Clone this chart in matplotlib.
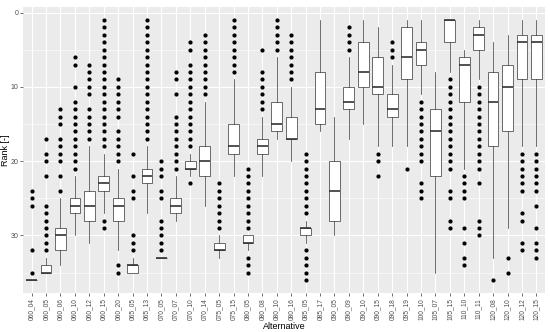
import numpy as np
import matplotlib
matplotlib.use("Agg")
import matplotlib.pyplot as plt

plt.rcParams['font.family'] = ['Liberation Sans', 'DejaVu Sans']

# alternatives on the x axis
alternatives = ['060_04', '060_05', '060_06', '060_10', '060_12', '060_15', '060_20',
                '065_05', '065_13', '070_05', '070_07', '070_10', '070_14', '075_05',
                '075_15', '080_05', '080_08', '080_10', '080_16', '085_05', '085_17',
                '090_05', '090_09', '090_10', '090_15', '090_18', '095_19', '100_10',
                '105_07', '105_15', '110_10', '110_11', '120_08', '120_10', '120_12',
                '120_15']

# box statistics (rank)
whisker_lo = [36, 33, 25, 22, 18, 19, 21, 33, 18, 33, 22, 19, 12, 30, 9, 30, 14, 6,
              10, 28, 1, 14, 6, 1, 2, 7, 1, 1, 8, 1, 5, 1, 4, 3, 1, 1]
box_lo = [36, 34, 29, 25, 24, 22, 25, 34, 21, 33, 25, 20, 18, 31, 15, 30, 17, 12,
          14, 29, 8, 20, 10, 4, 6, 11, 2, 4, 13, 1, 6, 2, 8, 7, 3, 3]
medians = [36, 35, 30, 26, 26, 23, 26, 34, 22, 33, 26, 21, 20, 32, 18, 31, 18, 15,
           17, 29, 13, 24, 12, 8, 10, 13, 6, 5, 16, 1, 7, 3, 12, 10, 4, 4]
box_hi = [36, 35, 32, 27, 28, 24, 28, 35, 23, 33, 27, 21, 22, 32, 19, 31, 19, 16,
          17, 30, 15, 28, 13, 10, 11, 14, 9, 7, 22, 4, 12, 5, 18, 16, 9, 9]
whisker_hi = [36, 35, 34, 30, 31, 27, 32, 35, 27, 33, 28, 22, 26, 33, 22, 32, 22, 17,
              20, 31, 16, 30, 17, 15, 18, 18, 18, 11, 35, 8, 21, 9, 33, 29, 18, 18]
outliers = [
    [24, 25, 26, 32, 35],
    [17, 19, 20, 22, 26, 27, 28, 29, 30, 31, 32],
    [13, 14, 15, 17, 18, 19, 20, 22, 24],
    [6, 7, 10, 12, 13, 14, 15, 16, 17, 18, 19, 20, 21],
    [7, 8, 9, 10, 11, 13, 14, 15, 16, 17],
    [1, 2, 3, 4, 5, 6, 7, 8, 9, 10, 11, 12, 13, 14, 15, 16, 17, 18, 28, 29],
    [9, 10, 11, 12, 13, 14, 16, 17, 18, 19, 20, 34, 35],
    [19, 22, 24, 25, 30, 31, 32],
    [1, 2, 3, 4, 5, 6, 7, 8, 9, 10, 11, 12, 13, 14, 15, 16, 17],
    [20, 21, 22, 24, 25, 28, 29, 30, 31, 32],
    [8, 9, 11, 14, 15, 16, 17, 18, 19, 20, 21],
    [4, 5, 7, 8, 9, 10, 11, 12, 13, 14, 15, 16, 17, 18, 23],
    [3, 4, 5, 6, 7, 8, 9, 10, 11],
    [23, 24, 25, 26, 27, 28, 29],
    [1, 2, 3, 4, 5, 6, 7, 8],
    [21, 22, 23, 24, 25, 26, 27, 28, 29, 33, 34, 35],
    [5, 8, 9, 10, 11, 12, 13],
    [1, 2, 3, 4, 5],
    [3, 4, 5, 6, 7, 8, 9],
    [19, 20, 21, 22, 23, 24, 25, 26, 27, 32, 33, 34, 35, 36],
    [],
    [],
    [2, 3, 4, 5],
    [],
    [19, 20, 22],
    [4, 5, 6],
    [21],
    [12, 13, 14, 15, 16, 17, 18, 19, 20, 23, 24, 25],
    [],
    [9, 10, 11, 12, 13, 14, 15, 16, 17, 18, 19, 20, 21, 24, 25, 28, 29],
    [22, 23, 24, 25, 29, 31, 33, 34],
    [10, 11, 12, 13, 14, 15, 16, 17, 18, 19, 20, 21, 23, 28, 29, 30],
    [36],
    [33, 35],
    [19, 20, 21, 22, 23, 24, 27, 28, 31, 32],
    [19, 20, 21, 22, 23, 24, 26, 29, 31, 32, 33],
]

stats = []
for i in range(len(alternatives)):
    stats.append({'whislo': whisker_lo[i], 'q1': box_lo[i], 'med': medians[i],
                  'q3': box_hi[i], 'whishi': whisker_hi[i], 'fliers': outliers[i]})

fig = plt.figure(figsize=(5.5, 3.32), dpi=100)
ax = fig.add_axes([23/550, 1 - 293/332, 522/550, 286/332])
ax.set_facecolor('#EBEBEB')

pos = np.arange(1, len(alternatives) + 1)
ax.bxp(stats, positions=pos, widths=0.75, patch_artist=True, zorder=3,
       boxprops=dict(facecolor='white', edgecolor='#333333', linewidth=0.5),
       medianprops=dict(color='#333333', linewidth=1.2),
       whiskerprops=dict(color='#333333', linewidth=0.5),
       capprops=dict(linewidth=0),
       flierprops=dict(marker='o', markerfacecolor='black', markeredgecolor='black',
                       markersize=2.0, linestyle='none'))

ax.set_xlim(0.4, len(alternatives) + 0.6)
ax.set_ylim(37.75, -0.75)
ax.set_xticks(pos)
ax.set_xticklabels(alternatives, rotation=90, fontsize=4.8, color='#4D4D4D')
ax.set_yticks([0, 10, 20, 30])
ax.set_yticks([5, 15, 25, 35], minor=True)
ax.tick_params(axis='y', labelsize=5, colors='#4D4D4D')
ax.tick_params(which='major', length=2, width=0.5, color='#333333', pad=1.5)
ax.tick_params(which='minor', length=0)

ax.grid(which='major', color='white', linewidth=0.8, zorder=0)
ax.grid(which='minor', axis='y', color='white', linewidth=0.4, zorder=0)
ax.set_axisbelow(True)
for s in ax.spines.values():
    s.set_visible(False)

ax.set_xlabel('Alternative', fontsize=6.5, labelpad=1.5)
ax.set_ylabel('Rank [-]', fontsize=6.5, labelpad=0.5)

fig.savefig('out.png', dpi=100, facecolor='white')
